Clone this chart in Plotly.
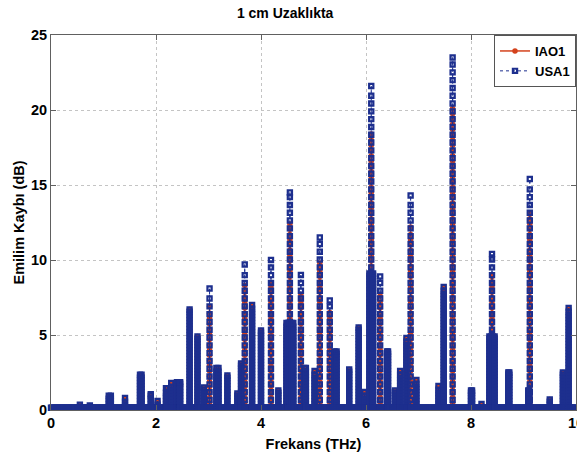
import plotly.graph_objects as go

# Absorption lines: centre frequency (THz) and band width (THz)
line_freq = [0.55, 0.74, 1.12, 1.41, 1.71, 1.90, 2.03, 2.20, 2.29, 2.43,
             2.64, 2.79, 2.91, 3.02, 3.17, 3.36, 3.55, 3.62, 3.69, 3.83,
             4.00, 4.19, 4.33, 4.55, 4.55, 4.76, 4.84, 5.02, 5.12, 5.31,
             5.42, 5.68, 5.86, 5.97, 6.10, 6.10, 6.27, 6.41, 6.55, 6.65,
             6.77, 6.85, 6.96, 7.38, 7.48, 7.65, 8.01, 8.20, 8.40, 8.40,
             8.72, 9.10, 9.12, 9.50, 9.75, 9.86]
line_width = [0.0, 0.0, 0.04, 0.0, 0.03, 0.0, 0.0, 0.02, 0.0, 0.06,
              0.0, 0.0, 0.0, 0.0, 0.04, 0.0, 0.0, 0.0, 0.0, 0.0,
              0.0, 0.0, 0.0, 0.13, 0.0, 0.0, 0.03, 0.0, 0.0, 0.0,
              0.04, 0.0, 0.0, 0.0, 0.07, 0.0, 0.0, 0.02, 0.0, 0.0,
              0.0, 0.0, 0.0, 0.0, 0.0, 0.0, 0.02, 0.0, 0.10, 0.0,
              0.02, 0.02, 0.0, 0.0, 0.0, 0.0]

# Peak absorption loss (dB) of each line for the two data sets
usa1_peak = [0.35, 0.30, 0.95, 0.80, 2.35, 1.05, 0.60, 1.45, 1.80, 1.85,
             6.70, 4.90, 1.50, 8.10, 2.80, 2.30, 1.10, 3.10, 9.70, 7.00,
             5.30, 10.0, 1.30, 5.80, 14.5, 9.00, 2.80, 2.60, 11.5, 7.30,
             3.90, 2.70, 5.50, 1.20, 9.10, 21.6, 8.90, 3.90, 1.30, 2.60,
             4.80, 14.3, 2.00, 1.60, 8.20, 23.5, 1.30, 0.40, 4.90, 10.4,
             2.50, 1.30, 15.4, 0.70, 2.50, 6.80]
iao1_peak = [0.35, 0.30, 0.95, 0.80, 2.35, 1.05, 0.60, 1.45, 1.80, 1.85,
             6.70, 4.90, 1.50, 6.90, 2.80, 2.30, 1.10, 3.10, 8.30, 7.00,
             5.30, 8.50, 1.30, 5.80, 12.4, 7.70, 2.80, 2.60, 9.80, 6.50,
             3.90, 2.70, 5.50, 1.20, 9.10, 18.4, 7.60, 3.90, 1.30, 2.60,
             4.80, 12.2, 2.00, 1.60, 8.20, 20.1, 1.30, 0.40, 4.90, 8.90,
             2.50, 1.30, 13.1, 0.70, 2.50, 6.80]

floor_db = 0.15
freq_range = [0, 10]
x_ticks = [0, 2, 4, 6, 8, 10]
y_ticks = [0, 5, 10, 15, 20, 25]

NAVY = "#1d2f8e"
RED = "#d4421c"


def build_series(peaks, line_step, band_step=0.2, col_step=0.03, floor_step=0.02):
    """Lay each line out as stacked sample markers rising from the floor to its peak.

    Lines where the two data sets agree are unresolved bands and get densely packed
    samples; the others are sharp lines whose samples are spread along the rise.
    """
    columns = []
    n_floor = int(round((freq_range[1] - freq_range[0]) / floor_step))
    for i in range(n_floor + 1):
        columns.append((freq_range[0] + i * floor_step, [floor_db]))
    for c, w, h, u, a in zip(line_freq, line_width, peaks, usa1_peak, iao1_peak):
        if w <= 0:
            xs = [c]
        else:
            n_cols = max(2, int(round(w / col_step)) + 1)
            xs = [c - w / 2 + k * w / (n_cols - 1) for k in range(n_cols)]
        step = band_step if u == a else line_step
        ys = []
        y = floor_db
        while y < h - step * 0.5:
            ys.append(y)
            y += step
        ys += [h, floor_db]
        for x in xs:
            columns.append((x, ys))
    columns.sort(key=lambda col: col[0])
    px, py = [], []
    for x, ys in columns:
        px += [x] * len(ys)
        py += ys
    return px, py


iao_x, iao_y = build_series(iao1_peak, line_step=0.35)
usa_x, usa_y = build_series(usa1_peak, line_step=0.52)

fig = go.Figure()
fig.add_trace(go.Scatter(
    x=iao_x, y=iao_y, name="IAO1", mode="lines+markers",
    line=dict(color=RED, width=1.5),
    marker=dict(symbol="circle", size=5.5, color=RED),
    cliponaxis=False,
))
fig.add_trace(go.Scatter(
    x=usa_x, y=usa_y, name="USA1", mode="lines+markers",
    line=dict(color=NAVY, width=1, dash="dot"),
    marker=dict(symbol="square-open", size=4.2, color=NAVY, line=dict(width=2.2, color=NAVY)),
    cliponaxis=False,
))

axis_common = dict(
    showline=True, linecolor="#606060", linewidth=1, mirror="ticks",
    ticks="inside", ticklen=5, tickcolor="#606060",
    showgrid=True, gridcolor="#c4c4c4", griddash="dot", gridwidth=1,
    zeroline=False, ticklabeloverflow="allow", automargin=False,
    tickfont=dict(size=14.5, weight="bold", color="black"),
)

fig.update_xaxes(
    range=freq_range, tickvals=x_ticks, ticktext=[str(v) for v in x_ticks],
    title=dict(text="Frekans (THz)", font=dict(size=14.5, weight="bold"), standoff=8),
    **axis_common,
)
fig.update_yaxes(
    range=[0, 25], tickvals=y_ticks, ticktext=[str(v) for v in y_ticks],
    title=dict(text="Emilim Kaybı (dB)", font=dict(size=14.5, weight="bold"), standoff=2),
    **axis_common,
)

fig.update_layout(
    width=577, height=457,
    margin=dict(l=51, r=1, t=35, b=47, autoexpand=False),
    paper_bgcolor="white", plot_bgcolor="white",
    font=dict(family="Liberation Sans, Arial, sans-serif", size=14, color="black"),
    title=dict(text="1 cm Uzaklıkta", x=0.446, xref="paper", xanchor="center",
               y=1 - 13 / 457, yref="container", yanchor="middle",
               font=dict(size=14, weight="bold")),
    showlegend=True,
    legend=dict(x=1, xanchor="right", y=1, yanchor="top",
                bordercolor="#555555", borderwidth=1, bgcolor="white",
                font=dict(size=13, weight="bold"), itemwidth=30,
                tracegroupgap=0),
)

fig.write_html("out.html")
